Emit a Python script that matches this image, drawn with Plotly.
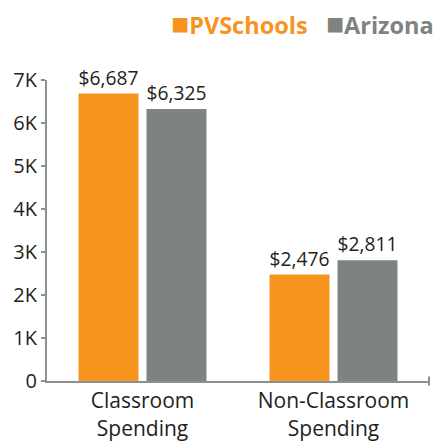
import plotly.graph_objects as go

categories = ["Classroom<br>Spending", "Non-Classroom<br>Spending"]
pv_values = [6687, 2476]
az_values = [6325, 2811]
series_names = ["PVSchools", "Arizona"]
tick_vals = [0, 1000, 2000, 3000, 4000, 5000, 6000, 7000]
tick_text = ["0", "1K", "2K", "3K", "4K", "5K", "6K", "7K"]

ORANGE = "#F7941D"
GRAY = "#7E8381"
AXIS = "#8C908F"
TEXT = "#231F20"
FONT = "Open Sans"

def fmt(v):
    return "${:,}".format(v)

fig = go.Figure()
for name, vals, col in [(series_names[0], pv_values, ORANGE), (series_names[1], az_values, GRAY)]:
    fig.add_trace(go.Bar(
        x=categories, y=vals, name=name,
        marker=dict(color=col, line=dict(width=0)),
        text=[fmt(v) for v in vals], textposition="outside",
        textfont=dict(family=FONT, size=19.5, color=TEXT),
        cliponaxis=False,
    ))

sq = "<span style='font-size:30px'>■</span>"
legend_text = (f"<span style='color:{ORANGE}'>{sq}<b>{series_names[0]}</b></span>   "
               f"<span style='color:{GRAY}'>{sq}<b>{series_names[1]}</b></span>")

fig.update_layout(
    width=436, height=441,
    margin=dict(l=47, r=7, t=80, b=60, autoexpand=False),
    paper_bgcolor="white", plot_bgcolor="white",
    barmode="group", bargap=0.288, bargroupgap=0.118,
    font=dict(family=FONT, size=19, color=TEXT),
    showlegend=False,
    xaxis=dict(showline=True, linecolor=AXIS, linewidth=2, ticks="", showgrid=False,
               tickfont=dict(family=FONT, size=21, color=TEXT), fixedrange=True),
    yaxis=dict(range=[0, 7000], tickvals=tick_vals, ticktext=tick_text,
               showline=True, linecolor=AXIS, linewidth=2, ticks="outside",
               ticklen=4, tickcolor=AXIS, tickwidth=2, showgrid=False, zeroline=False,
               tickfont=dict(family=FONT, size=20, color=TEXT), fixedrange=True),
    annotations=[dict(text=legend_text, xref="paper", yref="paper", x=1, y=1,
                      xanchor="right", yanchor="middle", xshift=7, yshift=58,
                      showarrow=False, font=dict(family=FONT, size=23.5))],
)
fig.add_shape(type="line", xref="paper", yref="paper", x0=1, x1=1, y0=-0.015, y1=0.015,
              line=dict(color=AXIS, width=2))
fig.write_html("out.html", config={"displayModeBar": False},
               post_script="document.body.style.margin='0';")
